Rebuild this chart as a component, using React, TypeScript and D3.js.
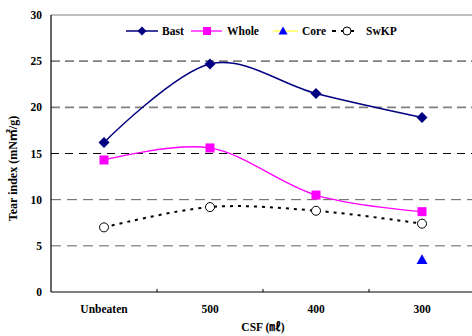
import React from "react";
import * as d3 from "d3";

const categories = ["Unbeaten", "500", "400", "300"];
const bast = [16.2, 24.7, 21.5, 18.9];
const whole = [14.3, 15.6, 10.5, 8.7];
const swkp = [7.0, 9.2, 8.8, 7.4];
const core: (number | null)[] = [null, null, null, 3.5];
const yTicks = [0, 5, 10, 15, 20, 25, 30];

const W = 472, H = 336;
const left = 51, right = 475, top = 15, bottom = 292;
const FONT = "'Liberation Serif', 'Times New Roman', 'Noto Sans CJK KR', serif";

export default function App() {
  const x = d3.scaleBand<string>().domain(categories).range([left, right]);
  const cx = (c: string) => (x(c) as number) + x.bandwidth() / 2;
  const y = d3.scaleLinear().domain([0, 30]).range([bottom, top]);
  const line = d3
    .line<number>()
    .x((_, i) => cx(categories[i]))
    .y((d) => y(d))
    .curve(d3.curveCatmullRom.alpha(0));

  const gridStyle = (v: number) => {
    if (v >= 20) return { stroke: "#808080", w: 1.6, dash: "9,5" };
    if (v === 15) return { stroke: "#000", w: 1, dash: "8,6" };
    return { stroke: "#606060", w: 1, dash: "10,6" };
  };

  const diamond = (px: number, py: number, s: number) =>
    `M${px},${py - s}L${px + s},${py}L${px},${py + s}L${px - s},${py}Z`;
  const tri = (px: number, py: number, s: number) =>
    `M${px},${py - s}L${px + s},${py + s * 0.8}L${px - s},${py + s * 0.8}Z`;

  return (
    <svg width={W} height={H} style={{ position: "absolute", left: 0, top: 0, background: "#fff" }}>
      <rect x={0} y={0} width={W} height={H} fill="#fff" />
      {/* grid */}
      {yTicks.filter((v) => v > 0 && v < 30).map((v) => {
        const g = gridStyle(v);
        return (
          <line key={v} x1={left} x2={W} y1={y(v)} y2={y(v)} stroke={g.stroke}
            strokeWidth={g.w} strokeDasharray={g.dash} />
        );
      })}
      <line x1={left} x2={W} y1={y(30)} y2={y(30)} stroke="#808080" strokeWidth={1} />
      {/* axes */}
      <line x1={left} x2={left} y1={y(30)} y2={bottom} stroke="#000" strokeWidth={1.2} />
      <line x1={left} x2={W} y1={bottom} y2={bottom} stroke="#000" strokeWidth={1.2} />
      {categories.slice(1).map((c) => (
        <line key={c} x1={x(c)} x2={x(c)} y1={bottom} y2={bottom - 3} stroke="#000" />
      ))}
      {yTicks.map((v) => (
        <text key={v} x={left - 9} y={y(v) + 4} textAnchor="end" fontFamily={FONT}
          fontWeight="bold" fontSize={11.5}>{v}</text>
      ))}
      {categories.map((c) => (
        <text key={c} x={cx(c)} y={313} textAnchor="middle" fontFamily={FONT}
          fontWeight="bold" fontSize={11.5}>{c}</text>
      ))}
      <text x={263} y={331} textAnchor="middle" fontFamily={FONT} fontWeight="bold" fontSize={11.5}>
        CSF (㎖)
      </text>
      <text transform={`translate(17,${(top + bottom) / 2 + 15}) rotate(-90)`} textAnchor="middle"
        fontFamily={FONT} fontWeight="bold" fontSize={12}>
        Tear index (mN㎡/g)
      </text>

      {/* series */}
      <path d={line(swkp) as string} fill="none" stroke="#000" strokeWidth={2} strokeDasharray="3,5" />
      <path d={line(whole) as string} fill="none" stroke="#ff00ff" strokeWidth={1.3} />
      <path d={line(bast) as string} fill="none" stroke="#000080" strokeWidth={1.5} />
      {swkp.map((v, i) => (
        <circle key={i} cx={cx(categories[i])} cy={y(v)} r={4.5} fill="#fff" stroke="#000" strokeWidth={1} />
      ))}
      {whole.map((v, i) => (
        <rect key={i} x={cx(categories[i]) - 4.5} y={y(v) - 4.5} width={9} height={9} fill="#ff00ff" />
      ))}
      {bast.map((v, i) => (
        <path key={i} d={diamond(cx(categories[i]), y(v), 5.5)} fill="#000080" />
      ))}
      {core.map((v, i) => v == null ? null : (
        <path key={i} d={tri(cx(categories[i]), y(v), 5.5)} fill="#0000ff" />
      ))}

      {/* legend */}
      <g fontFamily={FONT} fontWeight="bold" fontSize={11.5}>
        <line x1={126} x2={158} y1={31} y2={31} stroke="#000080" strokeWidth={1.5} />
        <path d={diamond(142, 31, 4.5)} fill="#000080" />
        <text x={162} y={35}>Bast</text>
        <line x1={191} x2={222} y1={31} y2={31} stroke="#ff00ff" strokeWidth={1.3} />
        <rect x={203} y={27} width={8} height={8} fill="#ff00ff" />
        <text x={227} y={35}>Whole</text>
        <line x1={273} x2={298} y1={31} y2={31} stroke="#ffff00" strokeWidth={1} />
        <path d={tri(283, 31, 4.5)} fill="#0000ff" />
        <text x={302} y={35}>Core</text>
        <line x1={332} x2={359} y1={31} y2={31} stroke="#000" strokeWidth={2} strokeDasharray="4,5" />
        <circle cx={347} cy={31} r={4} fill="#fff" stroke="#000" />
        <text x={366} y={35}>SwKP</text>
      </g>
    </svg>
  );
}
